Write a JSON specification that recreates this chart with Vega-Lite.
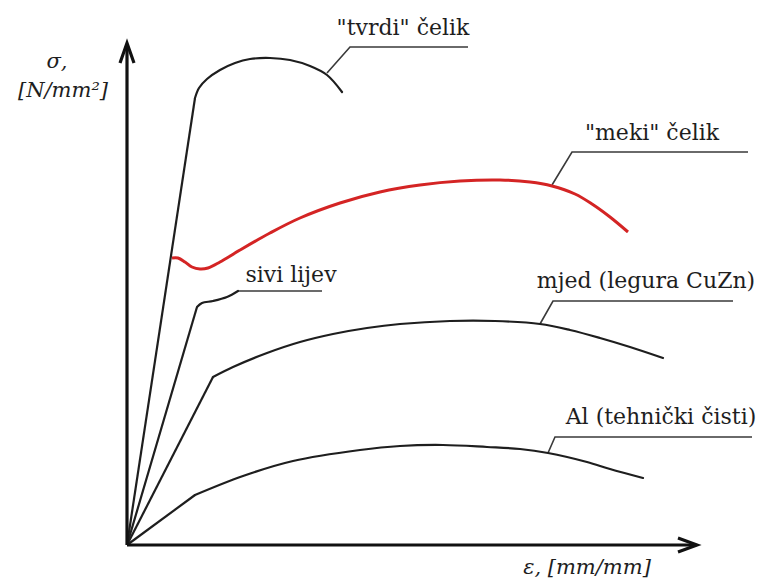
{
  "$schema": "https://vega.github.io/schema/vega-lite/v6.json",
  "width": 761,
  "height": 587,
  "padding": 0,
  "autosize": {"type": "fit", "contains": "padding"},
  "background": "white",
  "config": {"view": {"stroke": null}},
  "datasets": {
    "lines": [
      {"id": "yaxis", "g": "axis", "i": 0, "e": 0, "s": 0},
      {"id": "yaxis", "g": "axis", "i": 1, "e": 0, "s": 499},
      {"id": "yarrow", "g": "axis", "i": 0, "e": -7, "s": 482},
      {"id": "yarrow", "g": "axis", "i": 1, "e": 0, "s": 502},
      {"id": "yarrow", "g": "axis", "i": 2, "e": 7, "s": 482},
      {"id": "xaxis", "g": "axis", "i": 0, "e": 0, "s": 0},
      {"id": "xaxis", "g": "axis", "i": 1, "e": 568, "s": 0},
      {"id": "xarrow", "g": "axis", "i": 0, "e": 551, "s": 7},
      {"id": "xarrow", "g": "axis", "i": 1, "e": 570, "s": 0},
      {"id": "xarrow", "g": "axis", "i": 2, "e": 551, "s": -7},

      {"id": "tvrdi0", "g": "straight", "i": 0, "e": 0, "s": 0},
      {"id": "tvrdi0", "g": "straight", "i": 1, "e": 68, "s": 447},
      {"id": "sivi0", "g": "straight", "i": 0, "e": 0, "s": 0},
      {"id": "sivi0", "g": "straight", "i": 1, "e": 70, "s": 238},
      {"id": "mjed0", "g": "straight", "i": 0, "e": 0, "s": 0},
      {"id": "mjed0", "g": "straight", "i": 1, "e": 86, "s": 168},
      {"id": "al0", "g": "straight", "i": 0, "e": 0, "s": 0},
      {"id": "al0", "g": "straight", "i": 1, "e": 68, "s": 50},

      {"id": "tvrdi", "g": "curve", "i": 1, "e": 68, "s": 447},
      {"id": "tvrdi", "g": "curve", "i": 2, "e": 72, "s": 457},
      {"id": "tvrdi", "g": "curve", "i": 3, "e": 80, "s": 466},
      {"id": "tvrdi", "g": "curve", "i": 4, "e": 93, "s": 475},
      {"id": "tvrdi", "g": "curve", "i": 5, "e": 108, "s": 482},
      {"id": "tvrdi", "g": "curve", "i": 6, "e": 123, "s": 486},
      {"id": "tvrdi", "g": "curve", "i": 7, "e": 143, "s": 487},
      {"id": "tvrdi", "g": "curve", "i": 8, "e": 163, "s": 485},
      {"id": "tvrdi", "g": "curve", "i": 9, "e": 183, "s": 479},
      {"id": "tvrdi", "g": "curve", "i": 10, "e": 200, "s": 470},
      {"id": "tvrdi", "g": "curve", "i": 11, "e": 215, "s": 453},

      {"id": "sivi", "g": "curve", "i": 1, "e": 70, "s": 238},
      {"id": "sivi", "g": "curve", "i": 2, "e": 75, "s": 242},
      {"id": "sivi", "g": "curve", "i": 3, "e": 86, "s": 244},
      {"id": "sivi", "g": "curve", "i": 4, "e": 100, "s": 248},
      {"id": "sivi", "g": "curve", "i": 5, "e": 111, "s": 254},

      {"id": "mjed", "g": "curve", "i": 1, "e": 86, "s": 168},
      {"id": "mjed", "g": "curve", "i": 2, "e": 106, "s": 178},
      {"id": "mjed", "g": "curve", "i": 3, "e": 140, "s": 192},
      {"id": "mjed", "g": "curve", "i": 4, "e": 173, "s": 203},
      {"id": "mjed", "g": "curve", "i": 5, "e": 206, "s": 211},
      {"id": "mjed", "g": "curve", "i": 6, "e": 240, "s": 217},
      {"id": "mjed", "g": "curve", "i": 7, "e": 273, "s": 221},
      {"id": "mjed", "g": "curve", "i": 8, "e": 323, "s": 224},
      {"id": "mjed", "g": "curve", "i": 9, "e": 368, "s": 224},
      {"id": "mjed", "g": "curve", "i": 10, "e": 413, "s": 221},
      {"id": "mjed", "g": "curve", "i": 11, "e": 443, "s": 215},
      {"id": "mjed", "g": "curve", "i": 12, "e": 473, "s": 207},
      {"id": "mjed", "g": "curve", "i": 13, "e": 503, "s": 198},
      {"id": "mjed", "g": "curve", "i": 14, "e": 536, "s": 187},

      {"id": "al", "g": "curve", "i": 1, "e": 68, "s": 50},
      {"id": "al", "g": "curve", "i": 2, "e": 116, "s": 69},
      {"id": "al", "g": "curve", "i": 3, "e": 166, "s": 84},
      {"id": "al", "g": "curve", "i": 4, "e": 233, "s": 95},
      {"id": "al", "g": "curve", "i": 5, "e": 273, "s": 99},
      {"id": "al", "g": "curve", "i": 6, "e": 316, "s": 100},
      {"id": "al", "g": "curve", "i": 7, "e": 360, "s": 98},
      {"id": "al", "g": "curve", "i": 8, "e": 393, "s": 96},
      {"id": "al", "g": "curve", "i": 9, "e": 421, "s": 92},
      {"id": "al", "g": "curve", "i": 10, "e": 460, "s": 83},
      {"id": "al", "g": "curve", "i": 11, "e": 483, "s": 76},
      {"id": "al", "g": "curve", "i": 12, "e": 516, "s": 67},

      {"id": "meki", "g": "red", "i": 0, "e": 45, "s": 287},
      {"id": "meki", "g": "red", "i": 1, "e": 51, "s": 287},
      {"id": "meki", "g": "red", "i": 2, "e": 58, "s": 283},
      {"id": "meki", "g": "red", "i": 3, "e": 65, "s": 278},
      {"id": "meki", "g": "red", "i": 4, "e": 73, "s": 276},
      {"id": "meki", "g": "red", "i": 5, "e": 81, "s": 277},
      {"id": "meki", "g": "red", "i": 6, "e": 93, "s": 283},
      {"id": "meki", "g": "red", "i": 7, "e": 113, "s": 295},
      {"id": "meki", "g": "red", "i": 8, "e": 143, "s": 312},
      {"id": "meki", "g": "red", "i": 9, "e": 173, "s": 327},
      {"id": "meki", "g": "red", "i": 10, "e": 213, "s": 342},
      {"id": "meki", "g": "red", "i": 11, "e": 253, "s": 353},
      {"id": "meki", "g": "red", "i": 12, "e": 293, "s": 360},
      {"id": "meki", "g": "red", "i": 13, "e": 333, "s": 364},
      {"id": "meki", "g": "red", "i": 14, "e": 373, "s": 365},
      {"id": "meki", "g": "red", "i": 15, "e": 403, "s": 363},
      {"id": "meki", "g": "red", "i": 16, "e": 425, "s": 359},
      {"id": "meki", "g": "red", "i": 17, "e": 448, "s": 351},
      {"id": "meki", "g": "red", "i": 18, "e": 465, "s": 341},
      {"id": "meki", "g": "red", "i": 19, "e": 483, "s": 328},
      {"id": "meki", "g": "red", "i": 20, "e": 501, "s": 313},

      {"id": "Ltvrdi", "g": "leader", "i": 0, "e": 200, "s": 472},
      {"id": "Ltvrdi", "g": "leader", "i": 1, "e": 223, "s": 498},
      {"id": "Ltvrdi", "g": "leader", "i": 2, "e": 341, "s": 498},
      {"id": "Lmeki", "g": "leader", "i": 0, "e": 425, "s": 360},
      {"id": "Lmeki", "g": "leader", "i": 1, "e": 445, "s": 393},
      {"id": "Lmeki", "g": "leader", "i": 2, "e": 621, "s": 393},
      {"id": "Lsivi", "g": "leader", "i": 0, "e": 111, "s": 254},
      {"id": "Lsivi", "g": "leader", "i": 1, "e": 195, "s": 254},
      {"id": "Lmjed", "g": "leader", "i": 0, "e": 413, "s": 221},
      {"id": "Lmjed", "g": "leader", "i": 1, "e": 426, "s": 244},
      {"id": "Lmjed", "g": "leader", "i": 2, "e": 606, "s": 244},
      {"id": "Lal", "g": "leader", "i": 0, "e": 421, "s": 92},
      {"id": "Lal", "g": "leader", "i": 1, "e": 428, "s": 108},
      {"id": "Lal", "g": "leader", "i": 2, "e": 625, "s": 108}
    ],
    "labels": [
      {"t": "\"tvrdi\" čelik", "k": "name", "e": 276, "s": 517},
      {"t": "\"meki\" čelik", "k": "name", "e": 525, "s": 412},
      {"t": "sivi lijev", "k": "name", "e": 164, "s": 270},
      {"t": "mjed (legura CuZn)", "k": "name", "e": 519, "s": 264},
      {"t": "Al (tehnički čisti)", "k": "name", "e": 534, "s": 128},
      {"t": "σ,", "k": "axis", "e": -70, "s": 483},
      {"t": "[N/mm²]", "k": "axis", "e": -64, "s": 454},
      {"t": "ε, [mm/mm]", "k": "axis", "e": 460, "s": -23}
    ]
  },
  "encoding": {
    "x": {"field": "e", "type": "quantitative", "axis": null, "scale": {"domain": [-127, 634], "nice": false, "zero": false}},
    "y": {"field": "s", "type": "quantitative", "axis": null, "scale": {"domain": [-42, 545], "nice": false, "zero": false}}
  },
  "layer": [
    {
      "data": {"name": "lines"},
      "transform": [{"filter": "datum.g === 'leader'"}],
      "mark": {"type": "line", "color": "#3a3a3a", "strokeWidth": 1.6},
      "encoding": {"detail": {"field": "id"}, "order": {"field": "i", "type": "quantitative"}}
    },
    {
      "data": {"name": "lines"},
      "transform": [{"filter": "datum.g === 'straight'"}],
      "mark": {"type": "line", "color": "#1e1e1e", "strokeWidth": 2.2},
      "encoding": {"detail": {"field": "id"}, "order": {"field": "i", "type": "quantitative"}}
    },
    {
      "data": {"name": "lines"},
      "transform": [{"filter": "datum.g === 'curve'"}],
      "mark": {"type": "line", "color": "#1e1e1e", "strokeWidth": 2.2, "interpolate": "catmull-rom", "strokeCap": "round"},
      "encoding": {"detail": {"field": "id"}, "order": {"field": "i", "type": "quantitative"}}
    },
    {
      "data": {"name": "lines"},
      "transform": [{"filter": "datum.g === 'red'"}],
      "mark": {"type": "line", "color": "#d42424", "strokeWidth": 3, "interpolate": "catmull-rom"},
      "encoding": {"detail": {"field": "id"}, "order": {"field": "i", "type": "quantitative"}}
    },
    {
      "data": {"name": "lines"},
      "transform": [{"filter": "datum.g === 'axis'"}],
      "mark": {"type": "line", "color": "#111111", "strokeWidth": 3.2, "strokeJoin": "miter"},
      "encoding": {"detail": {"field": "id"}, "order": {"field": "i", "type": "quantitative"}}
    },
    {
      "data": {"name": "labels"},
      "transform": [{"filter": "datum.k === 'name'"}],
      "mark": {"type": "text", "font": "DejaVu Serif", "fontSize": 22, "color": "#1e1e1e", "align": "center", "baseline": "middle"},
      "encoding": {"text": {"field": "t"}}
    },
    {
      "data": {"name": "labels"},
      "transform": [{"filter": "datum.k === 'axis'"}],
      "mark": {"type": "text", "font": "DejaVu Serif", "fontStyle": "italic", "fontSize": 21, "color": "#1e1e1e", "align": "center", "baseline": "middle"},
      "encoding": {"text": {"field": "t"}}
    }
  ]
}
